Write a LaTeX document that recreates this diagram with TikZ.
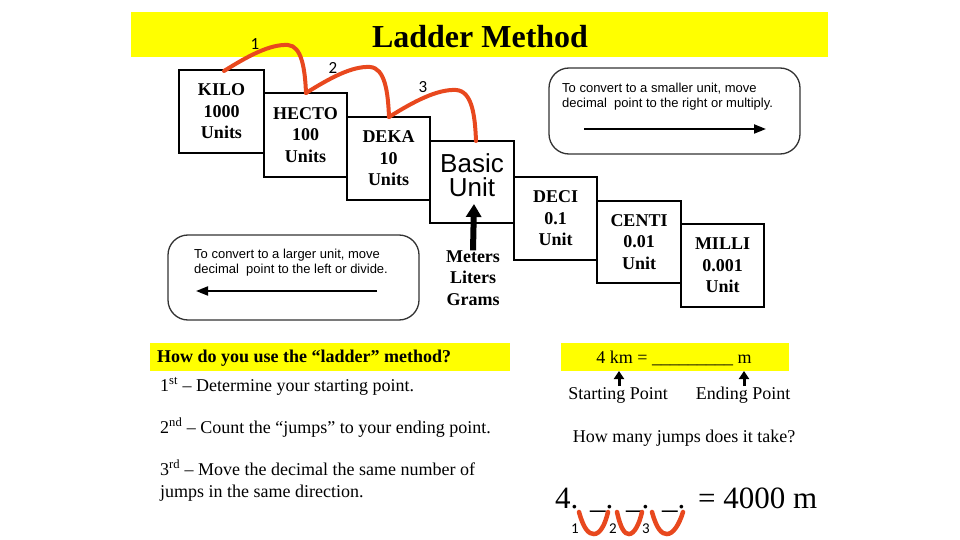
\documentclass[tikz,border=0pt]{standalone}
\usepackage{fontspec}
\setmainfont{Liberation Serif}
\newfontfamily\arialf{Liberation Sans}
\newfontfamily\calf{Carlito}
\usetikzlibrary{arrows.meta}
\definecolor{hiyel}{RGB}{255,255,0}
\definecolor{jumpred}{RGB}{232,72,30}
\definecolor{rbox}{RGB}{50,50,50}
\begin{document}
\begin{tikzpicture}[x=1pt,y=-1pt,
  unitbox/.style={draw=black, line width=1.8pt, fill=white, align=center, inner sep=0pt,
    font=\fontsize{18}{21.5}\selectfont\bfseries},
  roundbox/.style={draw=rbox, line width=1.3pt, rounded corners=20pt, inner sep=0pt},
  notetext/.style={align=left, inner sep=0pt, anchor=north west, font=\arialf\fontsize{13}{15}\selectfont},
  notearrow/.style={line width=2pt, -{Triangle[length=12pt,width=9pt]}},
  jump/.style={draw=jumpred, line width=4pt, line cap=round},
  vjump/.style={draw=jumpred, line width=4.5pt, line cap=round},
  jumplabel/.style={inner sep=0pt, font=\calf\fontsize{17}{17}\selectfont},
  bodytext/.style={inner sep=0pt, anchor=base west, font=\fontsize{18}{21}\selectfont},
  bigtext/.style={inner sep=0pt, anchor=base west, font=\fontsize{31}{31}\selectfont},
  yelbar/.style={fill=hiyel, draw=none}
]
\useasboundingbox (0,0) rectangle (960,540);
% banner
\fill[hiyel] (131,12) rectangle (828,57);
\node[inner sep=0pt, font=\fontsize{32}{32}\selectfont\bfseries] (title) at (480,37) {Ladder Method};

% ladder boxes
\node[unitbox, minimum width=85pt, minimum height=83pt] (kilo) at (221.5,111.5) {KILO\\1000\\Units};
\node[unitbox, minimum width=83pt, minimum height=84pt] (hecto) at (305.5,135) {HECTO\\100\\Units};
\node[unitbox, minimum width=83pt, minimum height=83pt] (deka) at (388.5,158.5) {DEKA\\10\\Units};
\node[unitbox, minimum width=84pt, minimum height=82pt] (basic) at (472,182) {};
\node[inner sep=0pt, align=center, font=\arialf\fontsize{26}{24}\selectfont] (basictxt) at (472,175) {Basic\\Unit};
\node[unitbox, minimum width=83pt, minimum height=83pt] (deci) at (555.5,218.5) {DECI\\0.1\\Unit};
\node[unitbox, minimum width=84pt, minimum height=82pt] (centi) at (639,242) {CENTI\\0.01\\Unit};
\node[unitbox, minimum width=83pt, minimum height=83pt] (milli) at (722.5,265.5) {MILLI\\0.001\\Unit};

% base units and arrow
\node[inner sep=0pt, align=center, font=\fontsize{18}{21.5}\selectfont\bfseries] (units) at (473,278) {Meters\\Liters\\Grams};
\coordinate (basetip) at (474,204);
\draw[line width=6pt, -{Triangle[length=13pt,width=15pt]}] (units.north) -- (basetip);

% jumps
\coordinate (j0) at (224,71);
\coordinate (j1) at (306,93);
\coordinate (j2) at (389,117);
\coordinate (j3) at (476,141);
\draw[jump] (j0) .. controls (248,56) and (270,44) .. (288,45) .. controls (302,46) and (305,70) .. (j1);
\draw[jump] (j1) .. controls (330,78) and (352,66) .. (370,67) .. controls (385,68) and (388,92) .. (j2);
\draw[jump] (j2) .. controls (413,102) and (437,89) .. (456,90) .. controls (472,91) and (475,115) .. (j3);
\node[jumplabel] (n1) at (255,44) {1};
\node[jumplabel] (n2) at (333,68) {2};
\node[jumplabel] (n3) at (423,87) {3};

% note boxes
\node[roundbox, minimum width=251pt, minimum height=86pt] (smaller) at (674.5,111) {};
\node[notetext] (smallertxt) at (562,83) {To convert to a smaller unit, move\\decimal\ \ point to the right or multiply.};
\coordinate (sa1) at (584,129);
\coordinate (sa2) at (766,129);
\draw[notearrow] (sa1) -- (sa2);

\node[roundbox, minimum width=251pt, minimum height=85pt] (larger) at (293.5,277.5) {};
\node[notetext] (largertxt) at (194,249) {To convert to a larger unit, move\\decimal\ \ point to the left or divide.};
\coordinate (la1) at (377,291);
\coordinate (la2) at (196,291);
\draw[notearrow] (la1) -- (la2);

% how to
\fill[hiyel] (150,343) rectangle (510,371);
\node[bodytext, font=\fontsize{18}{21}\selectfont\bfseries] (howq) at (157,362) {How do you use the “ladder” method?};
\node[bodytext] (step1) at (160,391) {1\textsuperscript{st} – Determine your starting point.};
\node[bodytext] (step2) at (160,433) {2\textsuperscript{nd} – Count the “jumps” to your ending point.};
\node[bodytext] (step3) at (160,475) {3\textsuperscript{rd} – Move the decimal the same number of};
\node[bodytext] (step3b) at (160,497) {jumps in the same direction.};

% example
\fill[hiyel] (561,343) rectangle (789,371);
\node[inner sep=0pt, anchor=base, font=\fontsize{18}{21}\selectfont] (example) at (674,363) {4 km = \_\_\_\_\_\_\_\_\_ m};
\node[inner sep=0pt, anchor=base, font=\fontsize{18}{21}\selectfont] (startp) at (618,399) {Starting Point};
\node[inner sep=0pt, anchor=base, font=\fontsize{18}{21}\selectfont] (endp) at (743,399) {Ending Point};
\coordinate (kmtip) at (619,371);
\coordinate (mtip) at (744,371);
\draw[line width=3pt, -{Triangle[length=8pt,width=10pt]}] (619,386) -- (kmtip);
\draw[line width=3pt, -{Triangle[length=8pt,width=10pt]}] (744,386) -- (mtip);
\node[inner sep=0pt, anchor=base, font=\fontsize{18}{21}\selectfont] (howmany) at (684,442) {How many jumps does it take?};

\node[bigtext] (four) at (555,508) {4.};
\node[bigtext] (b1) at (590,508) {\_.};
\node[bigtext] (b2) at (626,508) {\_.};
\node[bigtext] (b3) at (662,508) {\_.};
\node[bigtext] (result) at (698,508) {= 4000 m};

\coordinate (v0) at (579,512);
\coordinate (v1) at (608,512);
\coordinate (v2) at (617,512);
\coordinate (v3) at (642,512);
\coordinate (v4) at (652,512);
\coordinate (v5) at (683,512);
\draw[vjump] (v0) .. controls (584,530) and (589,534) .. (594,534) .. controls (600,534) and (605,525) .. (v1);
\draw[vjump] (v2) .. controls (621,530) and (625,534) .. (629,534) .. controls (634,534) and (639,525) .. (v3);
\draw[vjump] (v4) .. controls (657,530) and (662,534) .. (667,534) .. controls (673,534) and (679,525) .. (v5);
\node[jumplabel, font=\calf\fontsize{15}{15}\selectfont] (m1) at (575,529) {1};
\node[jumplabel, font=\calf\fontsize{15}{15}\selectfont] (m2) at (613,529) {2};
\node[jumplabel, font=\calf\fontsize{15}{15}\selectfont] (m3) at (646,529) {3};
\end{tikzpicture}
\end{document}
